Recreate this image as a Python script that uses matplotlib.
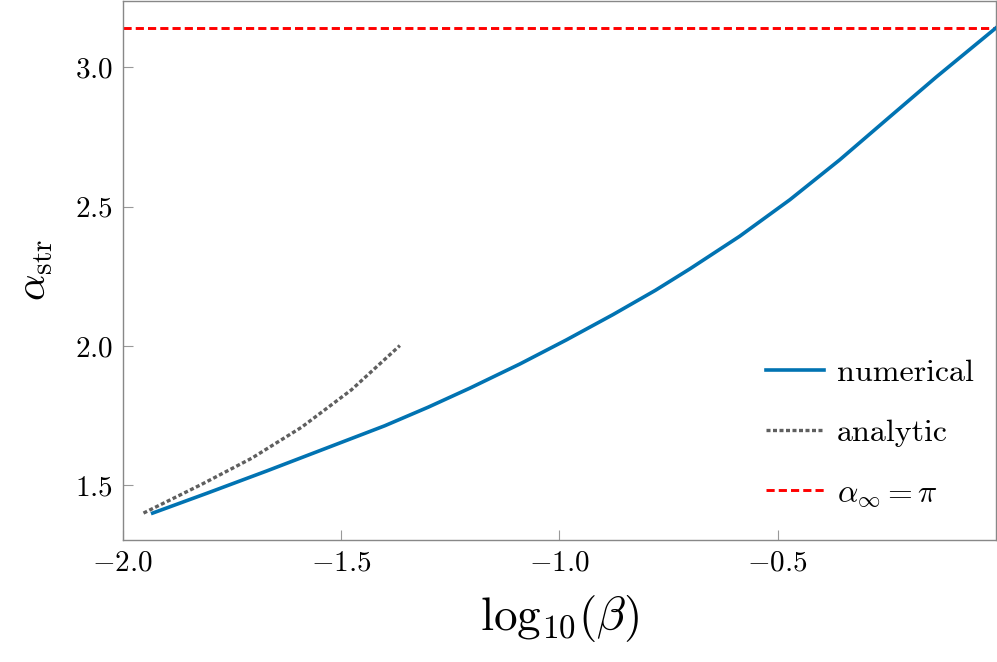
import matplotlib
matplotlib.use("Agg")
import matplotlib.pyplot as plt
import numpy as np

plt.rcParams['font.family'] = 'serif'
plt.rcParams['font.serif'] = ['cmr10']
plt.rcParams['mathtext.fontset'] = 'cm'
plt.rcParams['axes.unicode_minus'] = True

# data
num_x = [-1.931, -1.807, -1.670, -1.540, -1.400, -1.300, -1.205, -1.090, -0.984,
         -0.877, -0.780, -0.701, -0.587, -0.472, -0.358, -0.251, -0.137, 0.0]
num_y = [1.401, 1.472, 1.552, 1.630, 1.714, 1.781, 1.849, 1.936, 2.022,
         2.113, 2.200, 2.277, 2.394, 2.525, 2.668, 2.812, 2.965, 3.1416]
ana_x = [-1.952, -1.819, -1.704, -1.590, -1.476, -1.365]
ana_y = [1.401, 1.504, 1.598, 1.709, 1.843, 2.002]
alpha_inf = np.pi
xticks = [-2.0, -1.5, -1.0, -0.5]
xticklabels = [r'$-2.0$', r'$-1.5$', r'$-1.0$', r'$-0.5$']
yticks = [1.5, 2.0, 2.5, 3.0]
yticklabels = [r'$1.5$', r'$2.0$', r'$2.5$', r'$3.0$']

fig = plt.figure(figsize=(9.97, 6.62), dpi=100)
ax = fig.add_axes([0.1229, 0.1843, 0.8761, 0.8142])

ax.plot(num_x, num_y, color='#0173b2', lw=2.6, label='numerical', zorder=3,
        solid_joinstyle='round')
ax.plot(ana_x, ana_y, color='#5f5f5f', lw=2.4, dashes=(1.2, 0.75), label='analytic', zorder=3)
ax.axhline(alpha_inf, color='#ff0000', lw=2.1, dashes=(2.8, 1.4), label=r'$\alpha_\infty=\pi$', zorder=2)

ax.set_xlim(-2.0, 0.0)
ax.set_ylim(1.3045, 3.238)
ax.set_xticks(xticks)
ax.set_xticklabels(xticklabels)
ax.set_yticks(yticks)
ax.set_yticklabels(yticklabels)
ax.tick_params(direction='in', length=7, width=0.8, color='#999999', labelsize=21, pad=7)
for s in ax.spines.values():
    s.set_color('#888888')
    s.set_linewidth(1.0)

ax.set_xlabel(r'$\mathrm{log}_{10}(\beta)$', fontsize=34, labelpad=12)
ax.set_ylabel(r'$\alpha_{\rm str}$', fontsize=30, labelpad=14)

leg = ax.legend(loc='lower right', bbox_to_anchor=(1.0, 0.016), frameon=False, fontsize=23,
                handlelength=1.8, handletextpad=0.4, labelspacing=1.0, borderaxespad=0.3)

fig.savefig('out.png', dpi=100)
